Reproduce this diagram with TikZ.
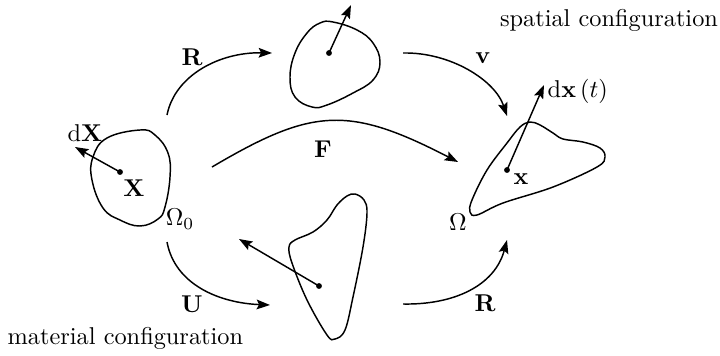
\documentclass[tikz,border=0pt]{standalone}
\usetikzlibrary{arrows.meta}
\begin{document}
\begin{tikzpicture}[x=0.411pt,y=-0.411pt,line width=0.6pt,
  arr/.style={-{Stealth[length=5.5pt,width=4pt,inset=1pt]}},
  blob/.style={line width=0.6pt},
  lbl/.style={inner sep=0pt},
  pt/.style={circle,fill,inner sep=0pt,minimum size=2.4pt}]
\useasboundingbox (0,0) rectangle (720,355);

% ---- left blob (reference configuration)
\draw[blob] plot[smooth cycle,tension=0.7] coordinates {(140,130) (155,135) (168,153) (170,177) (165,207) (158,219) (140,226) (120,220) (103,208) (92,180) (93,157) (107,138)};
\node[pt] (P0) at (120,172) {};
\coordinate (T0) at (75,147);
\draw[arr] (P0.center) -- (T0);
\node[lbl] (dX) at (85,133) {$\mathrm{d}\mathbf{X}$};
\node[lbl] (X) at (134,188) {$\mathbf{X}$};
\node[lbl] (O0) at (180,219) {$\Omega_0$};

% ---- top blob
\draw[blob] plot[smooth cycle,tension=0.7] coordinates {(333,22) (357,30) (373,43) (380,62) (373,80) (353,93) (327,105) (312,107) (295,97) (290,77) (295,53) (307,33) (320,23)};
\node[pt] (P1) at (329,53) {};
\coordinate (T1) at (351,5);
\draw[arr] (P1.center) -- (T1);

% ---- right blob (current configuration)
\draw[blob] plot[smooth cycle,tension=0.6] coordinates {(530,122) (540,125) (553,133) (563,139) (583,142) (600,148) (605,157) (597,167) (553,187) (503,203) (477,215) (470,212) (472,200) (487,170) (507,143) (520,127)};
\node[pt] (P2) at (507,170) {};
\coordinate (T2) at (544,85);
\draw[arr] (P2.center) -- (T2);
\node[lbl,anchor=west] (dx) at (547,91) {$\mathrm{d}\mathbf{x}\left(t\right)$};
\node[lbl] (x) at (521,179) {$\mathbf{x}$};
\node[lbl] (O) at (458,222) {$\Omega$};

% ---- bottom blob
\draw[blob] plot[smooth cycle,tension=0.6] coordinates {(355,194) (364,200) (367,213) (363,247) (353,297) (345,330) (335,339) (327,335) (307,300) (292,263) (289,247) (295,240) (313,232) (327,220) (337,205) (347,196)};
\node[pt] (P3) at (319,286) {};
\coordinate (T3) at (239,239);
\draw[arr] (P3.center) -- (T3);

% ---- mapping arrows
\coordinate (Rs) at (167,115); \coordinate (Re) at (272,53);
\draw[arr] (Rs) .. controls (175,75) and (220,52) .. (Re);
\node[lbl] (Rlab) at (192,57) {$\mathbf{R}$};

\coordinate (vs) at (403,53); \coordinate (ve) at (507,116);
\draw[arr] (vs) .. controls (450,52) and (495,80) .. (ve);
\node[lbl] (vlab) at (483,58) {$\mathbf{v}$};

\coordinate (Fs) at (212,167); \coordinate (Fe) at (458,162);
\draw[arr] (Fs) .. controls (312,108) and (348,105) .. (Fe);
\node[lbl] (Flab) at (323,149) {$\mathbf{F}$};

\coordinate (Us) at (167,242); \coordinate (Ue) at (270,305);
\draw[arr] (Us) .. controls (175,285) and (220,303) .. (Ue);
\node[lbl] (Ulab) at (192,304) {$\mathbf{U}$};

\coordinate (R2s) at (403,304); \coordinate (R2e) at (507,240);
\draw[arr] (R2s) .. controls (455,305) and (495,285) .. (R2e);
\node[lbl] (R2lab) at (485,303) {$\mathbf{R}$};

% ---- captions
\node[lbl,anchor=base] (spat) at (609,26) {spatial configuration};
\node[lbl,anchor=base west] (mat) at (7,344) {material configuration};
\end{tikzpicture}
\end{document}
